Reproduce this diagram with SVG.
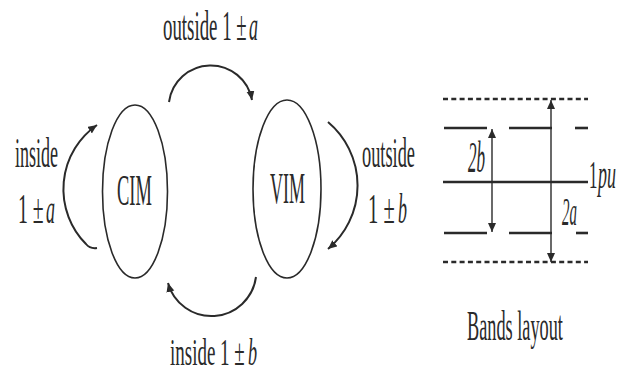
<svg xmlns="http://www.w3.org/2000/svg" width="622" height="373" viewBox="0 0 622 373">
<style>
  .node { fill: none; stroke: #2a2a2a; stroke-width: 1.6; }
  .conn { fill: none; stroke: #2a2a2a; stroke-width: 2; }
  .band { fill: none; stroke: #2a2a2a; stroke-width: 2.6; }
  .dash { fill: none; stroke: #2a2a2a; stroke-width: 2.6; stroke-dasharray: 5 3.3; }
  .dim { fill: none; stroke: #2a2a2a; stroke-width: 1.4; }
  .t { font-family: "Liberation Serif", "Times New Roman", serif; fill: #2a2a2a; font-size: 42px; }
  .i { font-style: italic; }
</style>
<defs>
  <marker id="ah" markerUnits="userSpaceOnUse" markerWidth="12" markerHeight="10" refX="9" refY="4" orient="auto">
    <path d="M0,0 L9,4 L0,8 Z" fill="#2a2a2a"/>
  </marker>
  <marker id="ahs" markerUnits="userSpaceOnUse" markerWidth="12" markerHeight="10" refX="0" refY="4" orient="auto">
    <path d="M9,0 L0,4 L9,8 Z" fill="#2a2a2a"/>
  </marker>
</defs>

<g id="node-CIM">
  <ellipse class="node" cx="135" cy="191.5" rx="32.5" ry="86.5"/>
  <text class="t" style="font-size:45px" transform="translate(117,205) scale(0.41,1)">CIM</text>
</g>
<g id="node-VIM">
  <ellipse class="node" cx="287" cy="189" rx="34" ry="89"/>
  <text class="t" style="font-size:45px" transform="translate(270,203) scale(0.40,1)">VIM</text>
</g>

<g id="connectors">
  <path class="conn" d="M169,102 A42,42 0 0 1 252,100" marker-end="url(#ah)"/>
  <path class="conn" d="M256,277 A45,45 0 0 1 168,283" marker-end="url(#ah)"/>
  <path class="conn" d="M97,248 Q90,249 86,244 A78,78 0 0 1 97,125" marker-end="url(#ah)"/>
  <path class="conn" d="M328,122 A83,83 0 0 1 328,249" marker-end="url(#ah)"/>
</g>

<g id="labels">
  <text class="t" transform="translate(163,40) scale(0.449,1)">outside 1 ±</text>
  <text class="t i" transform="translate(249,40) scale(0.43,1)">a</text>
  <text class="t" transform="translate(15,167) scale(0.43,1)">inside</text>
  <text class="t" transform="translate(18,223) scale(0.47,1)">1 ±</text>
  <text class="t i" transform="translate(46,223) scale(0.43,1)">a</text>
  <text class="t" transform="translate(362,167) scale(0.437,1)">outside</text>
  <text class="t" transform="translate(368,223) scale(0.49,1)">1 ±</text>
  <text class="t i" transform="translate(398,223) scale(0.43,1)">b</text>
  <text class="t" style="font-size:38px" transform="translate(170,365) scale(0.5,1)">inside 1 ±</text>
  <text class="t i" style="font-size:38px" transform="translate(248,365) scale(0.48,1)">b</text>
</g>

<g id="bands-layout">
  <line class="dash" x1="443" y1="99" x2="588" y2="99"/>
  <line class="band" x1="444" y1="128" x2="487" y2="128"/>
  <line class="band" x1="509" y1="128" x2="552" y2="128"/>
  <line class="band" x1="575" y1="128" x2="588" y2="128"/>
  <line class="band" x1="443" y1="182" x2="588" y2="182"/>
  <line class="band" x1="444" y1="233" x2="487" y2="233"/>
  <line class="band" x1="509" y1="233" x2="552" y2="233"/>
  <line class="band" x1="576" y1="233" x2="588" y2="233"/>
  <line class="dash" x1="443" y1="262" x2="588" y2="262"/>
  <line class="dim" x1="492" y1="129" x2="492" y2="232" marker-start="url(#ahs)" marker-end="url(#ah)"/>
  <line class="dim" x1="551" y1="100" x2="551" y2="262" marker-start="url(#ahs)" marker-end="url(#ah)"/>
  <text class="t i" style="font-size:44px" transform="translate(468,172) scale(0.39,1)">2b</text>
  <text class="t i" style="font-size:40px" transform="translate(562,225) scale(0.375,1)">2a</text>
  <text class="t" style="font-size:40px" transform="translate(589,188) scale(0.42,1)">1</text>
  <text class="t i" style="font-size:40px" transform="translate(598,188) scale(0.45,1)">pu</text>
  <text class="t" transform="translate(467,340) scale(0.435,1)">Bands layout</text>
</g>
</svg>
